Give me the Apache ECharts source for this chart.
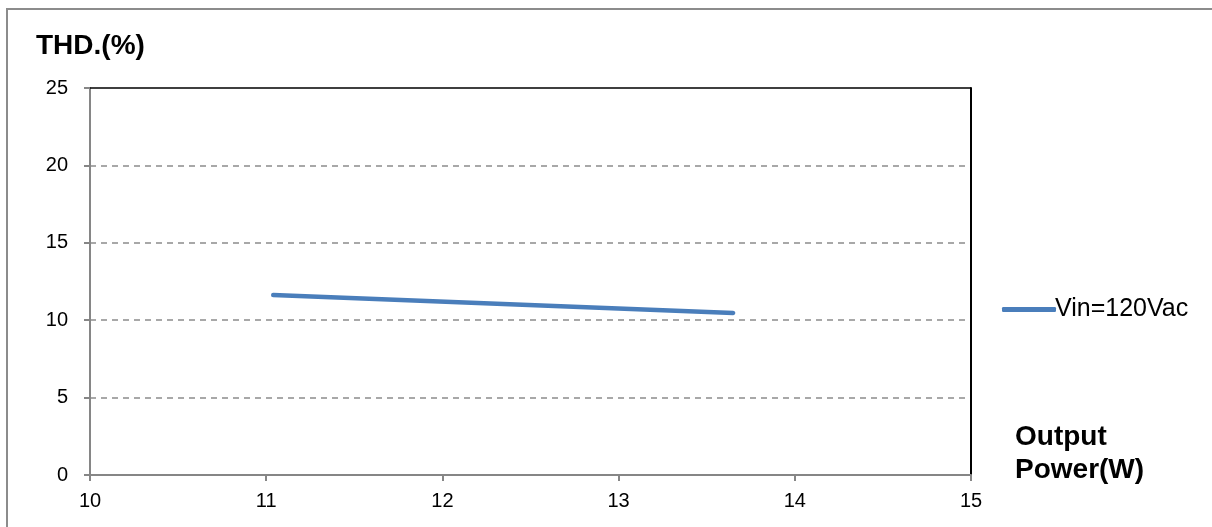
<!DOCTYPE html>
<html><head><meta charset="utf-8">
<script src="https://cdn.jsdelivr.net/npm/echarts@6/dist/echarts.min.js"></script>
<style>html,body{margin:0;padding:0;background:#fff}#c{width:1212px;height:527px}</style>
</head><body><div id="c"></div>
<script>
const seriesName = 'Vin=120Vac';
const outputPower = [11.04, 13.65];
const thd = [11.63, 10.47];
const xTicks = [10, 11, 12, 13, 14, 15];
const yTicks = [0, 5, 10, 15, 20, 25];

const chart = echarts.init(document.getElementById('c'));
const font = 'Liberation Sans, Arial, sans-serif';
chart.setOption({
  animation: false,
  backgroundColor: '#fff',
  grid: { left: 90, top: 88, width: 881, height: 387 },
  graphic: [
    { type: 'rect', z: 100, shape: { x: 7, y: 9, width: 1220, height: 540 }, style: { fill: 'none', stroke: '#8c8c8c', lineWidth: 2 }, silent: true },
    { type: 'rect', z: 100, shape: { x: 90, y: 88, width: 881, height: 0 }, style: { fill: 'none', stroke: '#000', lineWidth: 1.5 }, silent: true },
    { type: 'text', left: 36, top: 32, style: { text: 'THD.(%)', font: 'bold 28px ' + font, fill: '#000' } },
    { type: 'text', left: 1015, top: 421, style: { text: 'Output\nPower(W)', font: 'bold 28px ' + font, fill: '#000', lineHeight: 33 } }
  ],
  legend: {
    data: [seriesName], left: 997, top: 292, orient: 'vertical',
    itemWidth: 54, itemHeight: 5, itemGap: 4,
    icon: 'roundRect',
    textStyle: { fontFamily: font, fontSize: 25, color: '#000', padding: [0,0,0,-6] }
  },
  xAxis: [{
    type: 'value', min: 10, max: 15, interval: 1,
    axisLine: { show: true, onZero: false, lineStyle: { color: '#868686', width: 2 } },
    axisTick: { show: true, length: 6, lineStyle: { color: '#868686', width: 2 } },
    axisLabel: { fontFamily: font, fontSize: 20, color: '#000', margin: 16 },
    splitLine: { show: false }
  }],
  yAxis: [{
    type: 'value', min: 0, max: 25, interval: 5,
    axisLine: { show: true, onZero: false, lineStyle: { color: '#868686', width: 2 } },
    axisTick: { show: true, length: 6, lineStyle: { color: '#868686', width: 2 } },
    axisLabel: { fontFamily: font, fontSize: 20, color: '#000', margin: 22 },
    splitLine: { show: true, showMinLine: false, showMaxLine: false, lineStyle: { color: '#8c8c8c', type: [6, 5], width: 1.5 } }
  }, {
    type: 'value', position: 'right', min: 0, max: 25, interval: 5,
    axisLine: { show: true, lineStyle: { color: '#000', width: 2 } },
    axisTick: { show: false }, axisLabel: { show: false }, splitLine: { show: false }
  }],
  series: [{
    name: seriesName, type: 'line',
    data: outputPower.map((x, i) => [x, thd[i]]),
    showSymbol: false, symbol: 'none',
    lineStyle: { color: '#4a7ebb', width: 4.5, cap: 'round' },
    itemStyle: { color: '#4a7ebb' }
  }]
});
</script></body></html>
